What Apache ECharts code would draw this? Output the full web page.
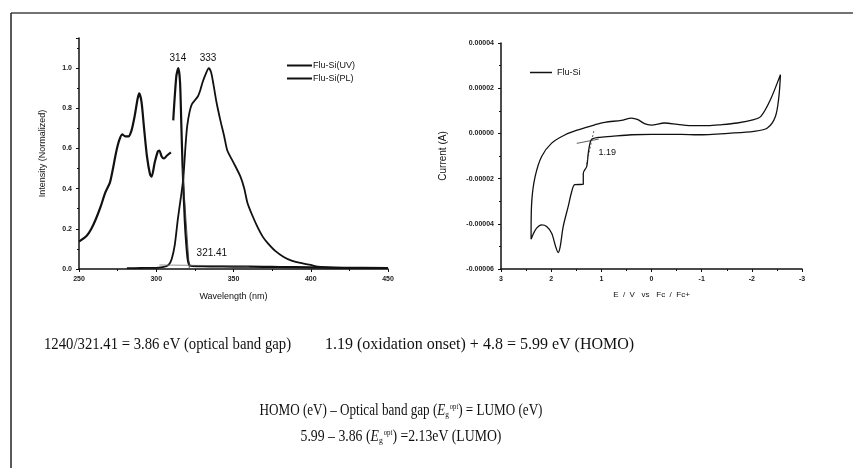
<!DOCTYPE html>
<html>
<head>
<meta charset="utf-8">
<title>Flu-Si</title>
<script src="https://cdn.jsdelivr.net/npm/echarts@6/dist/echarts.min.js"></script>
<style>
  html, body { margin: 0; padding: 0; background: #fff; }
  #main { width: 853px; height: 468px; }
</style>
</head>
<body>
<div id="main"></div>
<script>
// UV absorption (nm, normalized), null = break in the trace
var uvWave = [250, 255, 258, 261, 264, 267, 270, 272, 274, 276, 278, 280, 282, 284, 286, 288, 289, 290.5, 292, 294, 296, 297, 299, 301, 302, 303.5, 305, 307, 309.5, 310.3, 311, 313, 314.3, 315.4, 316.3, 317, 318.5, 320.2, 321.3, 323, 330, 340, 350, 360, 380, 400, 420, 450];
var uvInt  = [0.136, 0.165, 0.2, 0.25, 0.31, 0.38, 0.43, 0.5, 0.58, 0.64, 0.67, 0.66, 0.66, 0.69, 0.76, 0.85, 0.874, 0.83, 0.71, 0.56, 0.47, 0.46, 0.53, 0.585, 0.59, 0.56, 0.55, 0.565, 0.58, null, 0.74, 0.96, 1.0, 0.93, 0.7, 0.52, 0.24, 0.06, 0.02, 0.015, 0.014, 0.013, 0.012, 0.012, 0.01, 0.008, 0.006, 0.005];

// photoluminescence
var plWave = [281, 290, 300, 305, 308, 310, 312, 314, 316, 317.5, 319, 320, 321.5, 323, 325, 327, 328.5, 330, 332, 334, 335.5, 337, 339, 341.5, 344, 346, 350, 354.5, 357, 359, 362, 365.5, 369, 372, 377, 382.5, 388, 393.5, 400, 404.5, 415, 430, 450];
var plInt  = [0.004, 0.005, 0.006, 0.01, 0.02, 0.05, 0.12, 0.25, 0.36, 0.45, 0.62, 0.71, 0.78, 0.82, 0.84, 0.86, 0.89, 0.93, 0.97, 1.0, 0.98, 0.92, 0.83, 0.74, 0.66, 0.59, 0.53, 0.46, 0.4, 0.33, 0.27, 0.21, 0.16, 0.13, 0.09, 0.06, 0.04, 0.03, 0.02, 0.012, 0.007, 0.005, 0.005];

// onset construction lines on the spectrum
var edgeWave = [317, 321.41];
var edgeInt  = [0.5, 0];
var baseWave = [302, 360];
var baseInt  = [0.02, 0.015];

// cyclic voltammogram: E (V vs Fc/Fc+), current in units of 1e-5 A
var cvE = [2.40, 2.40, 2.385, 2.32, 2.19, 1.99, 1.72, 1.46, 1.13, 0.93, 0.60, 0.40, 0.27, 0.14, 0.006, -0.26, -0.52, -0.85, -1.12, -1.38, -1.71, -2.04, -2.18, -2.37, -2.57,
           -2.54, -2.47, -2.31, -2.04, -1.58, -0.92, -0.59, 0.006, 0.40, 0.80, 1.06, 1.20, 1.26, 1.29, 1.36, 1.36, 1.53, 1.59, 1.66, 1.76, 1.82, 1.86, 1.91, 1.99, 2.09, 2.19, 2.29, 2.35, 2.40];
var cvI = [-4.68, -4.27, -2.94, -1.91, -1.02, -0.43, -0.06, 0.16, 0.38, 0.49, 0.58, 0.68, 0.61, 0.43, 0.37, 0.46, 0.40, 0.34, 0.34, 0.38, 0.46, 0.61, 0.75, 1.49, 2.60,
           1.64, 0.75, 0.24, 0.09, 0.01, -0.06, -0.04, -0.04, -0.06, -0.13, -0.18, -0.28, -0.87, -1.46, -1.76, -2.25, -2.27, -2.57, -3.23, -4.12, -5.01, -5.27, -5.01, -4.42, -4.12, -4.05, -4.19, -4.42, -4.68];

var cvBaseE = [1.49, 1.05];
var cvBaseI = [-0.44, -0.25];
var cvTanE  = [1.15, 1.30];
var cvTanI  = [0.1, -1.4];

// tick labels
var wlTicks  = [250, 300, 350, 400, 450];
var cvETicks = [3, 2, 1, 0, -1, -2, -3];

function pairs(xs, ys) {
    var out = [];
    xs.forEach(function (x, i) {
        out.push([x, ys[i] === null ? '-' : ys[i]]);
    });
    return out;
}

var tickFont = { fontFamily: 'Arial', fontSize: 7, fontWeight: 'bold', color: '#222' };
var axisBlack = { onZero: false, lineStyle: { color: '#111', width: 1.5 } };

var serif = '16px "Liberation Serif"';
var richEq = {
    n: { font: serif, fill: '#111' },
    i: { font: 'italic ' + serif, fill: '#111' },
    sub: { font: '9px "Liberation Serif"', fill: '#111', padding: [8, 0, 0, 0] },
    sup: { font: '8px "Liberation Serif"', fill: '#111', padding: [0, 0, 8, 1] }
};

var chart = echarts.init(document.getElementById('main'));

chart.setOption({
    animation: false,
    backgroundColor: '#fff',
    grid: [
        { left: 79, top: 38, width: 309, height: 231 },
        { left: 501, top: 43, width: 301, height: 226 }
    ],
    legend: [
        {
            data: ['Flu-Si(UV)', 'Flu-Si(PL)'],
            orient: 'vertical', left: 287, top: 61, padding: 0,
            itemWidth: 25, itemHeight: 2, itemGap: 4, icon: 'rect',
            textStyle: { fontFamily: 'Arial', fontSize: 9, color: '#111', padding: [0, 0, 0, -4] }
        },
        {
            data: ['Flu-Si'],
            left: 530, top: 68, padding: 0,
            itemWidth: 22, itemHeight: 1.5, icon: 'rect',
            textStyle: { fontFamily: 'Arial', fontSize: 9, color: '#111' }
        }
    ],
    xAxis: [
        {
            gridIndex: 0, type: 'value', min: 250, max: 450, interval: 50,
            name: 'Wavelength (nm)', nameLocation: 'middle', nameGap: 23,
            nameTextStyle: { fontFamily: 'Arial', fontSize: 9, color: '#111' },
            axisLine: axisBlack, axisTick: { length: 3, lineStyle: { color: '#111' } },
            minorTick: { show: true, splitNumber: 2, length: 2, lineStyle: { color: '#111' } },
            splitLine: { show: false },
            axisLabel: Object.assign({ margin: 7, formatter: function (v) { return wlTicks.indexOf(v) >= 0 ? String(v) : ''; } }, tickFont)
        },
        {
            gridIndex: 1, type: 'value', min: -3, max: 3, interval: 1, inverse: true,
            name: 'E  /  V   vs   Fc  /  Fc+', nameLocation: 'middle', nameGap: 22,
            nameTextStyle: { fontFamily: 'Arial', fontSize: 8, color: '#111' },
            axisLine: axisBlack, axisTick: { length: 3, lineStyle: { color: '#111' } },
            minorTick: { show: true, splitNumber: 2, length: 2, lineStyle: { color: '#111' } },
            splitLine: { show: false },
            axisLabel: Object.assign({ margin: 7, formatter: function (v) { return cvETicks.indexOf(v) >= 0 ? String(v) : ''; } }, tickFont)
        }
    ],
    yAxis: [
        {
            gridIndex: 0, type: 'value', min: 0, max: 1.15, interval: 0.2,
            name: 'Intensity (Normalized)', nameLocation: 'middle', nameGap: 32,
            nameTextStyle: { fontFamily: 'Arial', fontSize: 9, color: '#111' },
            axisLine: axisBlack, axisTick: { length: 3, lineStyle: { color: '#111' } },
            minorTick: { show: true, splitNumber: 2, length: 2, lineStyle: { color: '#111' } },
            splitLine: { show: false },
            axisLabel: Object.assign({ margin: 7, showMaxLabel: false, formatter: function (v) { return v > 1.1 ? '' : v.toFixed(1); } }, tickFont)
        },
        {
            gridIndex: 1, type: 'value', min: -6, max: 4, interval: 2,
            name: 'Current (A)', nameLocation: 'middle', nameGap: 53,
            nameTextStyle: { fontFamily: 'Arial', fontSize: 10, color: '#111' },
            axisLine: axisBlack, axisTick: { length: 3, lineStyle: { color: '#111' } },
            minorTick: { show: true, splitNumber: 2, length: 2, lineStyle: { color: '#111' } },
            splitLine: { show: false },
            axisLabel: Object.assign({ margin: 7, formatter: function (v) { return (v * 1e-5).toFixed(5); } }, tickFont)
        }
    ],
    series: [
        {
            name: 'Flu-Si(UV)', type: 'line', xAxisIndex: 0, yAxisIndex: 0,
            data: pairs(uvWave, uvInt), showSymbol: false, smooth: 0.25, connectNulls: false,
            lineStyle: { color: '#111', width: 2.2 }, itemStyle: { color: '#111' },
            markPoint: {
                symbol: 'circle', symbolSize: 0,
                label: { show: true, position: 'inside', fontFamily: 'Arial', fontSize: 10, color: '#111' },
                data: [
                    { coord: [314, 1.05], value: '314' },
                    { coord: [336, 0.08], value: '321.41' }
                ]
            }
        },
        {
            name: 'Flu-Si(PL)', type: 'line', xAxisIndex: 0, yAxisIndex: 0,
            data: pairs(plWave, plInt), showSymbol: false, smooth: 0.25,
            lineStyle: { color: '#111', width: 1.8 }, itemStyle: { color: '#111' },
            markPoint: {
                symbol: 'circle', symbolSize: 0,
                label: { show: true, position: 'inside', fontFamily: 'Arial', fontSize: 10, color: '#111' },
                data: [ { coord: [333.5, 1.05], value: '333' } ]
            }
        },
        {
            type: 'line', xAxisIndex: 0, yAxisIndex: 0, data: pairs(edgeWave, edgeInt),
            showSymbol: false, lineStyle: { color: '#333', width: 0.8 }, silent: true
        },
        {
            type: 'line', xAxisIndex: 0, yAxisIndex: 0, data: pairs(baseWave, baseInt),
            showSymbol: false, lineStyle: { color: '#777', width: 0.8 }, silent: true
        },
        {
            name: 'Flu-Si', type: 'line', xAxisIndex: 1, yAxisIndex: 1,
            data: pairs(cvE, cvI), showSymbol: false, smooth: 0.3,
            lineStyle: { color: '#111', width: 1.3 }, itemStyle: { color: '#111' },
            markPoint: {
                symbol: 'circle', symbolSize: 0,
                label: { show: true, position: 'inside', fontFamily: 'Arial', fontSize: 9, color: '#111' },
                data: [ { coord: [0.88, -0.84], value: '1.19' } ]
            }
        },
        {
            type: 'line', xAxisIndex: 1, yAxisIndex: 1, data: pairs(cvBaseE, cvBaseI),
            showSymbol: false, lineStyle: { color: '#333', width: 0.8 }, silent: true
        },
        {
            type: 'line', xAxisIndex: 1, yAxisIndex: 1, data: pairs(cvTanE, cvTanI),
            showSymbol: false, lineStyle: { color: '#333', width: 0.8, type: [2, 2] }, silent: true
        }
    ],
    graphic: [
        // figure frame
        { type: 'line', shape: { x1: 11, y1: 13, x2: 853, y2: 13 }, style: { stroke: '#444', lineWidth: 1.5 } },
        { type: 'line', shape: { x1: 11, y1: 13, x2: 11, y2: 468 }, style: { stroke: '#222', lineWidth: 1.5 } },
        {
            type: 'text', x: 44, y: 345, scaleX: 0.92,
            style: { text: '1240/321.41 = 3.86 eV (optical band gap)', font: serif, fill: '#111', verticalAlign: 'middle' }
        },
        {
            type: 'text', x: 325, y: 345,
            style: { text: '1.19 (oxidation onset) + 4.8 = 5.99 eV (HOMO)', font: serif, fill: '#111', verticalAlign: 'middle' }
        },
        {
            type: 'text', x: 401, y: 411, scaleX: 0.82,
            style: {
                text: '{n|HOMO (eV) – Optical band gap (}{i|E}{sub|g}{sup|opt}{n|) = LUMO (eV)}',
                align: 'center', verticalAlign: 'middle', rich: richEq
            }
        },
        {
            type: 'text', x: 401, y: 437, scaleX: 0.86,
            style: {
                text: '{n|5.99 – 3.86 (}{i|E}{sub|g}{sup|opt}{n|) =2.13eV (LUMO)}',
                align: 'center', verticalAlign: 'middle', rich: richEq
            }
        }
    ]
});
</script>
</body>
</html>
